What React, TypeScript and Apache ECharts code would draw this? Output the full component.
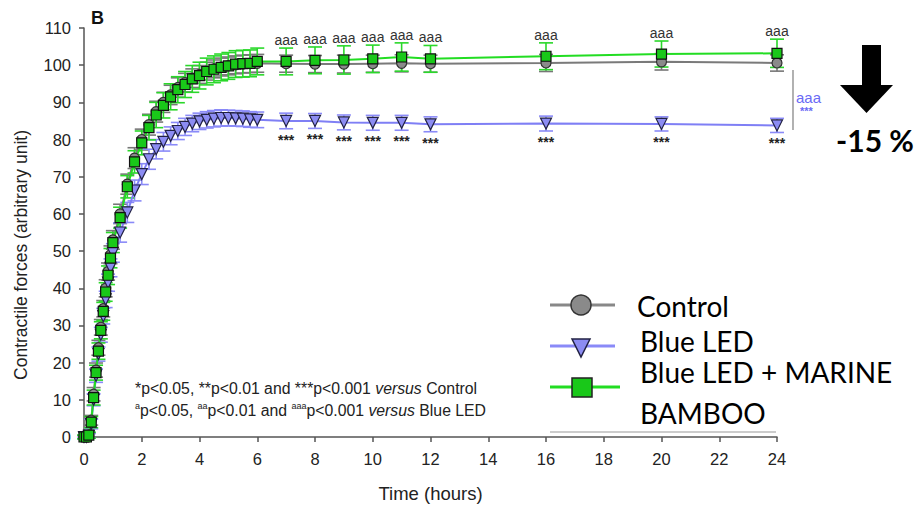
import React, { useEffect, useRef } from "react";
import * as echarts from "echarts";

// Time points (hours)
const TIMES = [0, 0.083, 0.167, 0.25, 0.333, 0.417, 0.5, 0.583, 0.667, 0.75, 0.833, 0.917, 1,
  1.25, 1.5, 1.75, 2, 2.25, 2.5, 2.75, 3, 3.25, 3.5, 3.75, 4, 4.25, 4.5, 4.75, 5, 5.25, 5.5, 5.75, 6,
  7, 8, 9, 10, 11, 12, 16, 20, 24];

const CONTROL = [0, 0, 0.5, 4.5, 11.5, 18, 24, 29.5, 34.5, 40, 44.5, 49, 53,
  60, 68, 75, 80, 84, 87.5, 90, 92, 94, 95.3, 96.5, 97.5, 98.4, 99, 99.5, 99.8, 100.1, 100.3, 100.4, 100.5,
  100.4, 100.3, 100.3, 100.4, 100.5, 100.4, 100.6, 100.9, 100.6];
const CONTROL_SD = [0.4, 0.4, 0.6, 1.3, 1.8, 1.9, 2, 2.1, 2.2, 2.3, 2.3, 2.4, 2.5,
  2.6, 2.7, 2.8, 2.8, 2.8, 2.8, 2.7, 2.6, 2.6, 2.5, 2.5, 2.4, 2.4, 2.4, 2.4, 2.4, 2.4, 2.4, 2.4, 2.4,
  2.3, 2.3, 2.4, 2.3, 2.3, 2.3, 2.3, 2.2, 2.2];

const BLUE = [0, 0, 0.3, 3.5, 10, 16.5, 22.3, 27.5, 32.5, 37, 41.5, 45.5, 49.5,
  55, 60.4, 66.3, 70.7, 74.7, 77.4, 79.4, 81, 82.3, 83.4, 84.3, 84.9, 85.3, 85.6, 85.8, 85.8, 85.7, 85.6, 85.4, 85.3,
  85, 85, 84.6, 84.5, 84.5, 84.1, 84.3, 84.2, 83.8];
const BLUE_SD = [0.4, 0.4, 0.6, 1.3, 1.6, 1.8, 1.9, 2, 2.1, 2.2, 2.3, 2.4, 2.5,
  2.6, 2.7, 2.8, 2.8, 2.7, 2.6, 2.5, 2.4, 2.3, 2.3, 2.2, 2.2, 2.2, 2.2, 2.2, 2.1, 2.1, 2.1, 2.1, 2.1,
  2.1, 2, 2, 2, 2, 2, 2, 1.9, 1.9];

const GREEN = [0, 0, 0.5, 4, 10.6, 17.3, 23.1, 28.7, 33.8, 39, 43.5, 48.1, 52.3,
  59, 67.3, 74, 79.1, 83.2, 86.6, 89.2, 91.5, 93.4, 94.8, 96.3, 97.2, 98.3, 98.9, 99.4, 99.8, 100.3, 100.4, 100.5, 101,
  101, 101.3, 101.4, 101.7, 102.2, 101.7, 102.4, 103, 103.2];
const GREEN_SD = [0.5, 0.5, 0.8, 1.5, 2, 2, 2.2, 2.3, 2.4, 2.5, 2.5, 2.6, 2.7,
  2.8, 3, 3, 3.2, 3.3, 3.4, 3.4, 3.5, 3.5, 3.5, 3.6, 3.6, 3.6, 3.6, 3.6, 3.6, 3.6, 3.6, 3.6, 3.6,
  3.6, 3.6, 3.8, 3.7, 3.8, 3.6, 3.6, 3.5, 3.8];

// Time points with significance marks
const SIG_TIMES = [7, 8, 9, 10, 11, 12, 16, 20, 24];

const SERIES_NAMES = ["Control", "Blue LED", "Blue LED + MARINE", "BAMBOO"];

const FONT = '"Liberation Sans", Arial, sans-serif';
const LFONT = 'Lato, "Open Sans", sans-serif';

function errData(vals: number[], sd: number[]) {
  return TIMES.map((t, i) => [t, vals[i] - sd[i], vals[i] + sd[i]]);
}

function makeErr(color: string, capHalf: number) {
  return (params: any, api: any) => {
    const x = api.value(0);
    const lo = api.value(1);
    const hi = api.value(2);
    const top = api.coord([x, hi]);
    const bot = api.coord([x, lo]);
    const style = { stroke: color, lineWidth: 1.6, fill: "none" };
    return {
      type: "group",
      children: [
        { type: "line", shape: { x1: top[0], y1: top[1], x2: bot[0], y2: bot[1] }, style },
        { type: "line", shape: { x1: top[0] - capHalf, y1: top[1], x2: top[0] + capHalf, y2: top[1] }, style },
        { type: "line", shape: { x1: bot[0] - capHalf, y1: bot[1], x2: bot[0] + capHalf, y2: bot[1] }, style },
      ],
    };
  };
}

export default function App() {
  const ref = useRef<HTMLDivElement>(null);
  useEffect(() => {
    document.body.style.margin = "0";
    if (!ref.current) return;
    const chart = echarts.init(ref.current, null, { renderer: "svg" });

    const sigIdx = SIG_TIMES.map((t) => TIMES.indexOf(t));
    const aaaData = sigIdx.map((i) => [TIMES[i], GREEN[i] + GREEN_SD[i]]);
    const starData = sigIdx.map((i) => [TIMES[i], BLUE[i] - BLUE_SD[i]]);

    const option: any = {
      animation: false,
      backgroundColor: "#ffffff",
      grid: { left: 84, right: 143, top: 28, bottom: 69 },
      xAxis: {
        type: "value",
        min: 0,
        max: 24,
        interval: 2,
        name: "Time (hours)",
        nameLocation: "middle",
        nameGap: 47,
        nameTextStyle: { fontFamily: FONT, fontSize: 18.5, color: "#222" },
        axisLine: { lineStyle: { color: "#555", width: 1.5 } },
        axisTick: { show: true, length: 5, lineStyle: { color: "#555", width: 1.5 } },
        axisLabel: { fontFamily: FONT, fontSize: 16.5, color: "#222", margin: 13 },
        splitLine: { show: false },
      },
      yAxis: {
        type: "value",
        min: 0,
        max: 110,
        interval: 10,
        axisLine: { show: true, lineStyle: { color: "#555", width: 1.5 } },
        axisTick: { show: true, length: 5, lineStyle: { color: "#555", width: 1.5 } },
        axisLabel: { fontFamily: FONT, fontSize: 16.5, color: "#222", margin: 13 },
        splitLine: { show: false },
      },
      series: [
        {
          type: "custom",
          name: "Control SD",
          renderItem: makeErr("#777777", 7),
          encode: { x: 0, y: [1, 2] },
          data: errData(CONTROL, CONTROL_SD),
          silent: true,
        },
        {
          type: "line",
          name: SERIES_NAMES[0],
          data: TIMES.map((t, i) => [t, CONTROL[i]]),
          symbol: "circle",
          symbolSize: 10,
          itemStyle: { color: "#8a8a8a", borderColor: "#333", borderWidth: 1.2 },
          lineStyle: { color: "#7a7a7a", width: 2 },
        },
        {
          type: "custom",
          name: "Blue SD",
          renderItem: makeErr("#8a8af8", 7),
          encode: { x: 0, y: [1, 2] },
          data: errData(BLUE, BLUE_SD),
          silent: true,
        },
        {
          type: "line",
          name: SERIES_NAMES[1],
          data: TIMES.map((t, i) => [t, BLUE[i]]),
          symbol: "triangle",
          symbolRotate: 180,
          symbolSize: 11,
          itemStyle: { color: "#8c8cf2", borderColor: "#222244", borderWidth: 1.2 },
          lineStyle: { color: "#7f7ff5", width: 2 },
        },
        {
          type: "custom",
          name: "Green SD",
          renderItem: makeErr("#2ad82a", 7),
          encode: { x: 0, y: [1, 2] },
          data: errData(GREEN, GREEN_SD),
          silent: true,
        },
        {
          type: "line",
          name: SERIES_NAMES[2],
          data: TIMES.map((t, i) => [t, GREEN[i]]),
          symbol: "rect",
          symbolSize: 10,
          itemStyle: { color: "#19c819", borderColor: "#111", borderWidth: 1.2 },
          lineStyle: { color: "#22dd22", width: 2 },
        },
        {
          type: "custom",
          name: "aaa marks",
          encode: { x: 0, y: 1 },
          data: aaaData,
          silent: true,
          renderItem: (params: any, api: any) => {
            const p = api.coord([api.value(0), api.value(1)]);
            return {
              type: "text",
              x: p[0],
              y: p[1] - 8,
              style: { text: "aaa", fill: "#333", font: `14px ${FONT}`, align: "center", verticalAlign: "middle" },
            };
          },
        },
        {
          type: "custom",
          name: "*** marks",
          encode: { x: 0, y: 1 },
          data: starData,
          silent: true,
          renderItem: (params: any, api: any) => {
            const p = api.coord([api.value(0), api.value(1)]);
            return {
              type: "text",
              x: p[0],
              y: p[1] + 11,
              style: { text: "***", fill: "#222", font: `bold 14px ${FONT}`, align: "center", verticalAlign: "middle" },
            };
          },
        },
      ],
      graphic: [
        { type: "text", x: 91, y: 18, style: { text: "B", font: `bold 18px ${FONT}`, fill: "#111", verticalAlign: "middle" } },
        {
          type: "text",
          x: 21,
          y: 255,
          rotation: Math.PI / 2,
          style: { text: "Contractile forces (arbitrary unit)", font: `17.5px ${FONT}`, fill: "#222", align: "center", verticalAlign: "middle" },
        },
        {
          type: "text",
          x: 135,
          y: 388,
          style: {
            text: "*p<0.05, **p<0.01 and ***p<0.001 {i|versus} Control",
            font: `15.8px ${FONT}`,
            fill: "#222",
            verticalAlign: "middle",
            rich: { i: { fontStyle: "italic", fontFamily: FONT, fontSize: 15.8, fill: "#222" } },
          },
        },
        {
          type: "text",
          x: 135,
          y: 410,
          style: {
            text: "{s|a}p<0.05, {s|aa}p<0.01 and {s|aaa}p<0.001 {i|versus} Blue LED",
            font: `15.8px ${FONT}`,
            fill: "#222",
            verticalAlign: "middle",
            rich: {
              s: { fontSize: 9, fontFamily: FONT, verticalAlign: "top", fill: "#222", lineHeight: 18 },
              i: { fontStyle: "italic", fontFamily: FONT, fontSize: 15.8, fill: "#222", lineHeight: 18 },
            },
          },
        },
        // right bracket with significance
        { type: "line", shape: { x1: 793, y1: 70, x2: 793, y2: 130 }, style: { stroke: "#888", lineWidth: 1.3 } },
        { type: "text", x: 796, y: 97, style: { text: "aaa", font: `15px ${FONT}`, fill: "#6a6af5", verticalAlign: "middle" } },
        { type: "text", x: 800, y: 111, style: { text: "***", font: `bold 11px ${FONT}`, fill: "#6a6af5", verticalAlign: "middle" } },
        // down arrow
        { type: "rect", shape: { x: 862, y: 45, width: 19, height: 41 }, style: { fill: "#000" } },
        { type: "polygon", shape: { points: [[840, 85], [893, 85], [866.5, 113]] }, style: { fill: "#000" } },
        { type: "text", x: 875, y: 140, style: { text: "-15 %", font: `bold 30px ${LFONT}`, fill: "#000", align: "center", verticalAlign: "middle" } },
        // legend
        { type: "line", shape: { x1: 550, y1: 305, x2: 615, y2: 305 }, style: { stroke: "#888", lineWidth: 3 } },
        { type: "circle", shape: { cx: 581, cy: 305, r: 10 }, style: { fill: "#8a8a8a", stroke: "#333", lineWidth: 1.5 } },
        { type: "text", x: 637, y: 306, style: { text: SERIES_NAMES[0], font: `28px ${LFONT}`, fill: "#000", verticalAlign: "middle" } },
        { type: "line", shape: { x1: 550, y1: 346, x2: 615, y2: 346 }, style: { stroke: "#8a8af8", lineWidth: 3 } },
        { type: "polygon", shape: { points: [[572, 339], [590, 339], [581, 357]] }, style: { fill: "#8c8cf2", stroke: "#222244", lineWidth: 1.5 } },
        { type: "text", x: 640, y: 341, style: { text: SERIES_NAMES[1], font: `28px ${LFONT}`, fill: "#000", verticalAlign: "middle" } },
        { type: "line", shape: { x1: 550, y1: 387, x2: 620, y2: 387 }, style: { stroke: "#22dd22", lineWidth: 3 } },
        { type: "rect", shape: { x: 572, y: 378, width: 20, height: 19 }, style: { fill: "#19c819", stroke: "#222", lineWidth: 1.5 } },
        { type: "text", x: 640, y: 372, style: { text: SERIES_NAMES[2], font: `28px ${LFONT}`, fill: "#000", verticalAlign: "middle" } },
        { type: "text", x: 640, y: 413, style: { text: SERIES_NAMES[3], font: `28px ${LFONT}`, fill: "#000", verticalAlign: "middle" } },
        { type: "line", shape: { x1: 550, y1: 432, x2: 776, y2: 432 }, style: { stroke: "#999", lineWidth: 1 } },
      ],
    };
    chart.setOption(option);
    return () => chart.dispose();
  }, []);
  return <div ref={ref} style={{ width: 920, height: 508 }} />;
}
